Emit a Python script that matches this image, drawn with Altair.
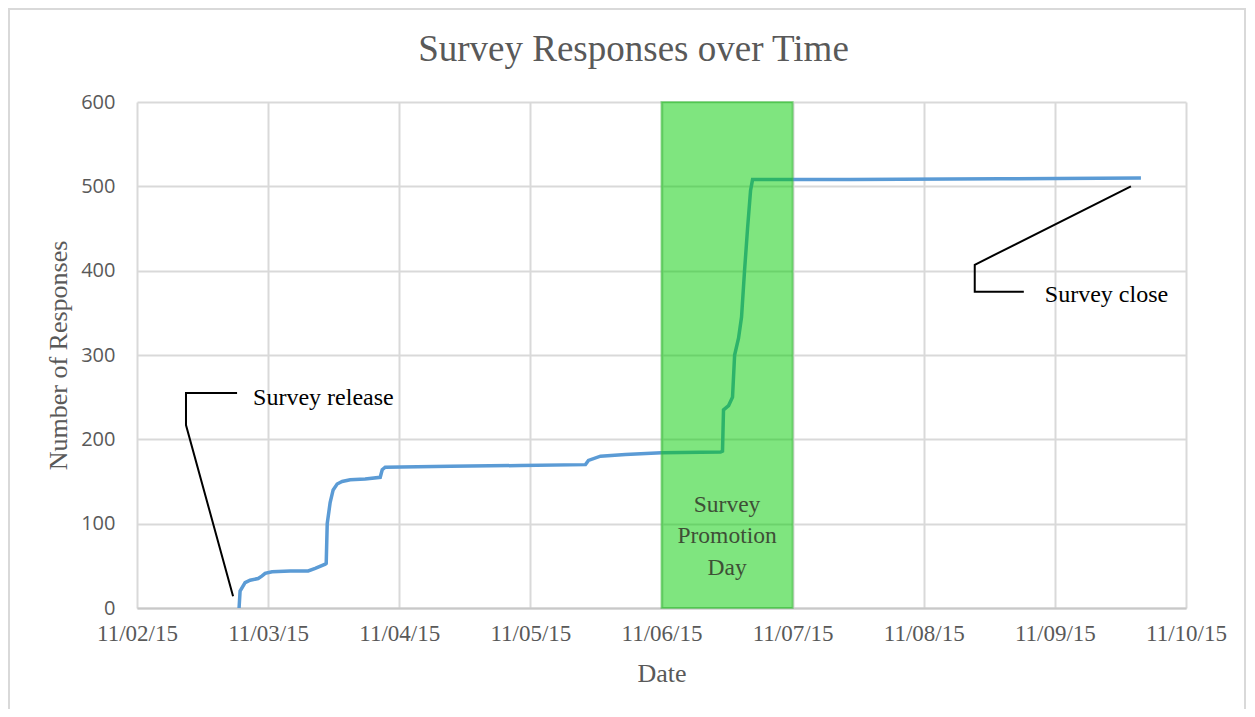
import altair as alt
import pandas as pd

# ---- data ----
chart_title = "Survey Responses over Time"

times = [
    "2015-11-02T18:41", "2015-11-02T18:52", "2015-11-02T19:47", "2015-11-02T20:42",
    "2015-11-02T22:10", "2015-11-02T22:54", "2015-11-02T23:27", "2015-11-03T00:44",
    "2015-11-03T04:02", "2015-11-03T07:20", "2015-11-03T08:37", "2015-11-03T10:27",
    "2015-11-03T10:38", "2015-11-03T10:49", "2015-11-03T11:21", "2015-11-03T11:54",
    "2015-11-03T12:38", "2015-11-03T13:33", "2015-11-03T15:01", "2015-11-03T17:46",
    "2015-11-03T20:31", "2015-11-03T20:53", "2015-11-03T21:26", "2015-11-04T09:21",
    "2015-11-04T22:10", "2015-11-05T10:05", "2015-11-05T10:38", "2015-11-05T12:50",
    "2015-11-05T17:24", "2015-11-06T00:00", "2015-11-06T10:49", "2015-11-06T11:10",
    "2015-11-06T11:21", "2015-11-06T12:17", "2015-11-06T13:00", "2015-11-06T13:23",
    "2015-11-06T14:06", "2015-11-06T14:39", "2015-11-06T15:12", "2015-11-06T15:45",
    "2015-11-06T16:18", "2015-11-06T16:40", "2015-11-07T10:38", "2015-11-08T14:06",
    "2015-11-09T15:45",
]
responses = [
    0, 20, 30, 33, 35, 38, 41, 43, 44, 44, 47, 52, 53, 100, 125, 140, 147, 150, 152, 153,
    155, 164, 167, 168, 169, 170, 175, 180, 182, 184, 185, 186, 235, 240, 250, 300, 320,
    345, 400, 450, 495, 508, 508, 509, 510,
]

band_start = ["2015-11-06T00:00"]
band_end = ["2015-11-07T00:00"]
band_low = [0]
band_high = [600]

band_label_times = ["2015-11-06T12:00", "2015-11-06T12:00", "2015-11-06T12:00"]
band_label_values = [122, 85, 47]
band_label_lines = ["Survey", "Promotion", "Day"]

callout_group = ["release"] * 4 + ["close"] * 4
callout_order = [0, 1, 2, 3, 0, 1, 2, 3]
callout_times = [
    "2015-11-02T17:35", "2015-11-02T08:58", "2015-11-02T08:58", "2015-11-02T18:19",
    "2015-11-09T13:55", "2015-11-08T09:20", "2015-11-08T09:20", "2015-11-08T18:19",
]
callout_values = [14, 217, 255, 255, 500, 407, 375, 375]

note_times = ["2015-11-02T21:15", "2015-11-08T22:10"]
note_values = [249, 371]
note_labels = ["Survey release", "Survey close"]

y_ticks = [0, 100, 200, 300, 400, 500, 600]

# ---- tables ----
line_df = pd.DataFrame({"t": times, "v": responses})
band_df = pd.DataFrame({"t": band_start, "t2": band_end, "v": band_low, "v2": band_high})
band_txt = pd.DataFrame({"t": band_label_times, "v": band_label_values, "label": band_label_lines})
call_df = pd.DataFrame({"t": callout_times, "v": callout_values, "g": callout_group, "o": callout_order})
note_df = pd.DataFrame({"t": note_times, "v": note_values, "label": note_labels})
title_df = pd.DataFrame({"label": [chart_title]})

W, H = 1049, 506
GREY = "#595959"
SERIF = "Liberation Serif"

xaxis = alt.Axis(
    format="%m/%d/%y",
    tickCount={"interval": "day", "step": 1},
    grid=True, gridColor="#D9D9D9", gridWidth=2,
    ticks=False, domain=True, domainColor="#C8C8C8", domainWidth=2,
    labelFont=SERIF, labelFontSize=23, labelColor=GREY, labelPadding=14,
    labelFlush=False, labelOverlap=False,
    titleFont=SERIF, titleFontSize=26, titleColor=GREY, titleFontWeight="normal",
    titleY=65, titleBaseline="middle",
)
yaxis = alt.Axis(
    values=y_ticks,
    grid=True, gridColor="#D9D9D9", gridWidth=2,
    ticks=False, domain=False,
    labelFont="Open Sans", labelFontSize=20, labelColor=GREY, labelPadding=22,
    titleFont=SERIF, titleFontSize=26, titleColor=GREY, titleFontWeight="normal",
    titleX=-79, titleY=H / 2, titleBaseline="middle", titleAngle=-90,
)

X = alt.X(
    "t:T", title="Date", axis=xaxis,
    scale=alt.Scale(domain=[alt.DateTime(year=2015, month=11, date=2),
                            alt.DateTime(year=2015, month=11, date=10)], nice=False),
)
Y = alt.Y("v:Q", title="Number of Responses", axis=yaxis,
          scale=alt.Scale(domain=[0, 600], nice=False, zero=True))

line = alt.Chart(line_df).mark_line(color="#5B9BD5", strokeWidth=3.5, interpolate="linear").encode(x=X, y=Y)

band = alt.Chart(band_df).mark_rect(
    fill="#00CC00", fillOpacity=0.5, stroke="#33BB33", strokeOpacity=0.5, strokeWidth=2
).encode(x=X, x2="t2:T", y=Y, y2="v2:Q")

band_text = alt.Chart(band_txt).mark_text(
    font=SERIF, fontSize=23.5, color="#3E4F36", align="center", baseline="middle"
).encode(x=X, y=Y, text="label:N")

callouts = alt.Chart(call_df).mark_line(color="black", strokeWidth=2).encode(
    x=X, y=Y, detail="g:N", order="o:Q"
)

notes = alt.Chart(note_df).mark_text(
    font=SERIF, fontSize=24, color="black", align="left", baseline="middle"
).encode(x=X, y=Y, text="label:N")

title_text = alt.Chart(title_df).mark_text(
    font=SERIF, fontSize=37, color=GREY, align="center", baseline="alphabetic"
).encode(x=alt.value(W / 2 - 28), y=alt.value(-41), text="label:N")

border = alt.Chart(pd.DataFrame({"a": [0]})).mark_rect(
    fill=None, stroke="#D9D9D9", strokeWidth=2
).encode(x=alt.value(-128), x2=alt.value(1108), y=alt.value(-93), y2=alt.value(H + 140))

chart = alt.layer(line, band, band_text, callouts, notes, title_text, border).properties(
    width=W, height=H,
    autosize=alt.AutoSizeParams(type="none"),
    padding={"left": 129, "top": 94, "right": 61, "bottom": 101},
).configure_view(stroke=None)

chart.save("out.html", embed_options={"renderer": "svg", "actions": False})
